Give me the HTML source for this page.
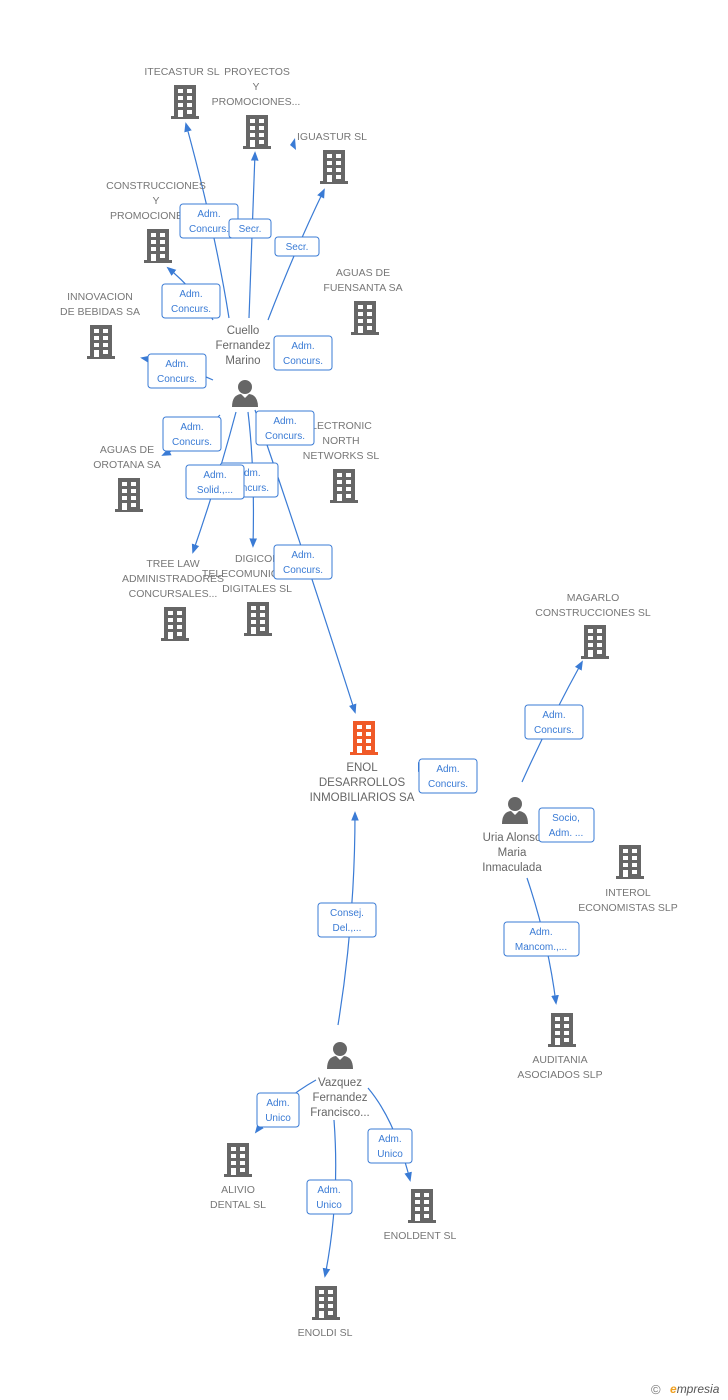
<!DOCTYPE html>
<html><head><meta charset="utf-8"><style>
body{margin:0;background:#fff;}
svg{display:block;font-family:"Liberation Sans",sans-serif;}
.t{font-size:10.5px;fill:#777;text-anchor:middle;}
.n{font-size:11.5px;fill:#666;text-anchor:middle;}
.l{font-size:10px;fill:#3a7bd5;text-anchor:middle;}
.e{fill:none;stroke:#3a7bd5;stroke-width:1.2;}
.b{fill:#fff;stroke:#3a7bd5;stroke-width:1;}
</style></head><body>
<svg width="728" height="1400" viewBox="0 0 728 1400">
<defs>
<symbol id="bld" viewBox="0 0 32 34">
<rect x="5" y="0" width="22" height="32" fill="#666"/>
<rect x="2" y="31" width="28" height="3" fill="#666"/>
<g fill="#fff"><rect x="9" y="4" width="5" height="4"/><rect x="18" y="4" width="5" height="4"/>
<rect x="9" y="11" width="5" height="4"/><rect x="18" y="11" width="5" height="4"/>
<rect x="9" y="18" width="5" height="4"/><rect x="18" y="18" width="5" height="4"/>
<rect x="9" y="25" width="5" height="7"/><rect x="18" y="25" width="5" height="4"/></g>
</symbol>
<symbol id="bldo" viewBox="0 0 32 34">
<rect x="5" y="0" width="22" height="32" fill="#f05a28"/>
<rect x="2" y="31" width="28" height="3" fill="#f05a28"/>
<g fill="#fff"><rect x="9" y="4" width="5" height="4"/><rect x="18" y="4" width="5" height="4"/>
<rect x="9" y="11" width="5" height="4"/><rect x="18" y="11" width="5" height="4"/>
<rect x="9" y="18" width="5" height="4"/><rect x="18" y="18" width="5" height="4"/>
<rect x="9" y="25" width="5" height="7"/><rect x="18" y="25" width="5" height="4"/></g>
</symbol>
<symbol id="per" viewBox="0 0 28 28">
<circle cx="14" cy="8" r="7" fill="#666"/>
<path d="M1 28 Q1 16 10 15 L14 19 L18 15 Q27 16 27 28 Z" fill="#666"/>
</symbol>
<marker id="a" viewBox="0 0 10 10" refX="8" refY="5" markerWidth="8" markerHeight="8" orient="auto"><path d="M0 1 L10 5 L0 9 Z" fill="#3a7bd5"/></marker>
</defs>

<g class="e" marker-end="url(#a)">
<path d="M229 318 Q215 230 186 124"/>
<path d="M249 318 Q252 240 255 153"/>
<path d="M268 320 Q295 250 324 190"/>
<path d="M213 320 Q195 290 168 268"/>
<path d="M213 380 Q180 365 142 358"/>
<path d="M220 415 Q195 440 163 455"/>
<path d="M236 412 Q218 480 193 552"/>
<path d="M248 412 Q255 470 253 546"/>
<path d="M255 410 Q300 540 355 712"/>
<path d="M522 782 Q550 720 582 662"/>
<path d="M527 878 Q548 940 556 1003"/>
<path d="M338 1025 Q355 920 355 813"/>
<path d="M316 1080 Q280 1100 256 1132"/>
<path d="M334 1120 Q340 1200 325 1276"/>
<path d="M368 1088 Q395 1120 410 1180"/>
</g>
<path d="M295 138 L290 145 L296 150" fill="#3a7bd5" stroke="none"/>
<path d="M418 762 L424 768 L418 772 Z" fill="#3a7bd5"/>

<use href="#bld" x="169" y="85" width="32" height="34"/>
<use href="#bld" x="241" y="115" width="32" height="34"/>
<use href="#bld" x="318" y="150" width="32" height="34"/>
<use href="#bld" x="142" y="229" width="32" height="34"/>
<use href="#bld" x="349" y="301" width="32" height="34"/>
<use href="#bld" x="85" y="325" width="32" height="34"/>
<use href="#bld" x="113" y="478" width="32" height="34"/>
<use href="#bld" x="328" y="469" width="32" height="34"/>
<use href="#bld" x="159" y="607" width="32" height="34"/>
<use href="#bld" x="242" y="602" width="32" height="34"/>
<use href="#bldo" x="348" y="721" width="32" height="34"/>
<use href="#bld" x="579" y="625" width="32" height="34"/>
<use href="#bld" x="614" y="845" width="32" height="34"/>
<use href="#bld" x="546" y="1013" width="32" height="34"/>
<use href="#bld" x="222" y="1143" width="32" height="34"/>
<use href="#bld" x="406" y="1189" width="32" height="34"/>
<use href="#bld" x="310" y="1286" width="32" height="34"/>
<use href="#per" x="231" y="379" width="28" height="28"/>
<use href="#per" x="501" y="796" width="28" height="28"/>
<use href="#per" x="326" y="1041" width="28" height="28"/>

<text class="t" x="182" y="75">ITECASTUR SL</text>
<text class="t" x="257" y="75">PROYECTOS</text>
<text class="t" x="256" y="90">Y</text>
<text class="t" x="256" y="105">PROMOCIONES...</text>
<text class="t" x="332" y="140">IGUASTUR SL</text>
<text class="t" x="156" y="189">CONSTRUCCIONES</text>
<text class="t" x="156" y="204">Y</text>
<text class="t" x="150" y="219">PROMOCIONES</text>
<text class="t" x="363" y="276">AGUAS DE</text>
<text class="t" x="363" y="291">FUENSANTA SA</text>
<text class="t" x="100" y="300">INNOVACION</text>
<text class="t" x="100" y="315">DE BEBIDAS SA</text>
<text class="n" x="243" y="334">Cuello</text>
<text class="n" x="243" y="349">Fernandez</text>
<text class="n" x="243" y="364">Marino</text>
<text class="t" x="127" y="453">AGUAS DE</text>
<text class="t" x="127" y="468">OROTANA SA</text>
<text class="t" x="338" y="429">ELECTRONIC</text>
<text class="t" x="341" y="444">NORTH</text>
<text class="t" x="341" y="459">NETWORKS SL</text>
<text class="t" x="173" y="567">TREE LAW</text>
<text class="t" x="173" y="582">ADMINISTRADORES</text>
<text class="t" x="173" y="597">CONCURSALES...</text>
<text class="t" x="258" y="562">DIGICOM</text>
<text class="t" x="248" y="577">TELECOMUNICA...</text>
<text class="t" x="257" y="592">DIGITALES SL</text>
<text class="n" x="362" y="771">ENOL</text>
<text class="n" x="362" y="786">DESARROLLOS</text>
<text class="n" x="362" y="801">INMOBILIARIOS SA</text>
<text class="t" x="593" y="601">MAGARLO</text>
<text class="t" x="593" y="616">CONSTRUCCIONES SL</text>
<text class="n" x="512" y="841">Uria Alonso</text>
<text class="n" x="512" y="856">Maria</text>
<text class="n" x="512" y="871">Inmaculada</text>
<text class="t" x="628" y="896">INTEROL</text>
<text class="t" x="628" y="911">ECONOMISTAS SLP</text>
<text class="t" x="560" y="1063">AUDITANIA</text>
<text class="t" x="560" y="1078">ASOCIADOS SLP</text>
<text class="n" x="340" y="1086">Vazquez</text>
<text class="n" x="340" y="1101">Fernandez</text>
<text class="n" x="340" y="1116">Francisco...</text>
<text class="t" x="238" y="1193">ALIVIO</text>
<text class="t" x="238" y="1208">DENTAL SL</text>
<text class="t" x="420" y="1239">ENOLDENT SL</text>
<text class="t" x="325" y="1336">ENOLDI SL</text>

<g>
<rect class="b" x="180" y="204" width="58" height="34" rx="3"/><text class="l" x="209" y="217">Adm.</text><text class="l" x="209" y="232">Concurs.</text>
<rect class="b" x="229" y="219" width="42" height="19" rx="3"/><text class="l" x="250" y="232">Secr.</text>
<rect class="b" x="275" y="237" width="44" height="19" rx="3"/><text class="l" x="297" y="250">Secr.</text>
<rect class="b" x="162" y="284" width="58" height="34" rx="3"/><text class="l" x="191" y="297">Adm.</text><text class="l" x="191" y="312">Concurs.</text>
<rect class="b" x="274" y="336" width="58" height="34" rx="3"/><text class="l" x="303" y="349">Adm.</text><text class="l" x="303" y="364">Concurs.</text>
<rect class="b" x="148" y="354" width="58" height="34" rx="3"/><text class="l" x="177" y="367">Adm.</text><text class="l" x="177" y="382">Concurs.</text>
<rect class="b" x="163" y="417" width="58" height="34" rx="3"/><text class="l" x="192" y="430">Adm.</text><text class="l" x="192" y="445">Concurs.</text>
<rect class="b" x="256" y="411" width="58" height="34" rx="3"/><text class="l" x="285" y="424">Adm.</text><text class="l" x="285" y="439">Concurs.</text>
<rect class="b" x="220" y="463" width="58" height="34" rx="3"/><text class="l" x="249" y="476">Adm.</text><text class="l" x="249" y="491">Concurs.</text>
<rect class="b" x="186" y="465" width="58" height="34" rx="3"/><text class="l" x="215" y="478">Adm.</text><text class="l" x="215" y="493">Solid.,...</text>
<rect class="b" x="274" y="545" width="58" height="34" rx="3"/><text class="l" x="303" y="558">Adm.</text><text class="l" x="303" y="573">Concurs.</text>
<rect class="b" x="525" y="705" width="58" height="34" rx="3"/><text class="l" x="554" y="718">Adm.</text><text class="l" x="554" y="733">Concurs.</text>
<rect class="b" x="419" y="759" width="58" height="34" rx="3"/><text class="l" x="448" y="772">Adm.</text><text class="l" x="448" y="787">Concurs.</text>
<rect class="b" x="539" y="808" width="55" height="34" rx="3"/><text class="l" x="566" y="821">Socio,</text><text class="l" x="566" y="836">Adm. ...</text>
<rect class="b" x="504" y="922" width="75" height="34" rx="3"/><text class="l" x="541" y="935">Adm.</text><text class="l" x="541" y="950">Mancom.,...</text>
<rect class="b" x="318" y="903" width="58" height="34" rx="3"/><text class="l" x="347" y="916">Consej.</text><text class="l" x="347" y="931">Del.,...</text>
<rect class="b" x="257" y="1093" width="42" height="34" rx="3"/><text class="l" x="278" y="1106">Adm.</text><text class="l" x="278" y="1121">Unico</text>
<rect class="b" x="368" y="1129" width="44" height="34" rx="3"/><text class="l" x="390" y="1142">Adm.</text><text class="l" x="390" y="1157">Unico</text>
<rect class="b" x="307" y="1180" width="45" height="34" rx="3"/><text class="l" x="329" y="1193">Adm.</text><text class="l" x="329" y="1208">Unico</text>
</g>

<text x="651" y="1394" font-size="13" fill="#777">©</text>
<text x="670" y="1393" font-size="12" font-style="italic" fill="#555"><tspan fill="#f0a020" font-weight="bold">e</tspan>mpresia</text>
</svg>
</body></html>
